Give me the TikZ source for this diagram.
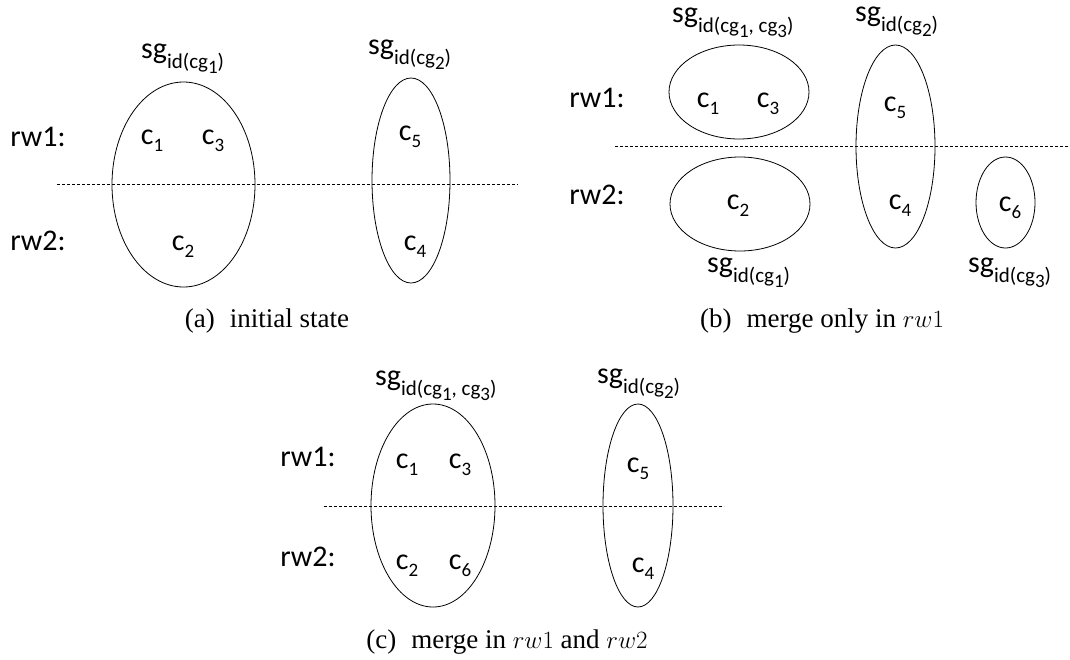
\documentclass[tikz,border=0pt]{standalone}
\usepackage{fontspec}
\newfontfamily\diag{Carlito}
\newfontfamily\capfont{Liberation Serif}
\usetikzlibrary{shapes.geometric}

% subscript helpers in the diagram font
\newcommand{\lo}[1]{\raisebox{-7pt}{\fontsize{19}{19}\selectfont #1}}
\newcommand{\sgsub}[1]{sg\raisebox{-10pt}{\fontsize{21}{21}\selectfont #1}}
\newcommand{\nest}[1]{\raisebox{-5pt}{\fontsize{19}{19}\selectfont #1}}

\begin{document}
\begin{tikzpicture}[x=1pt,y=-1pt,
  txt/.style={font=\diag\fontsize{30}{34}\selectfont, inner sep=0pt, anchor=base},
  lbl/.style={font=\diag\fontsize{30}{34}\selectfont, inner sep=0pt, anchor=base west},
  toplbl/.style={lbl, text height=16pt},
  grp/.style={draw, ellipse, line width=0.8pt, inner sep=0pt},
  row/.style={dashed, dash pattern=on 3pt off 2pt, line width=0.6pt},
  captxt/.style={font=\capfont\fontsize{27}{30}\selectfont, inner sep=0pt, anchor=base}]
\useasboundingbox (0,0) rectangle (1070,659);

% ---------------- (a) initial state ----------------
\coordinate (aL) at (57,184);
\coordinate (aR) at (518,184);
\draw[row] (aL) -- (aR);
\node[grp, minimum width=143pt, minimum height=205pt] (a1) at (183.5,184.5) {};
\node[grp, minimum width=78pt, minimum height=205pt] (a2) at (411,180.5) {};
\node[txt] (arw1) at (38,146) {rw1:};
\node[txt] (arw2) at (38,250) {rw2:};
\node[txt] (ac1) at (152,144) {c\lo{1}};
\node[txt] (ac3) at (213,144) {c\lo{3}};
\node[txt] (ac2) at (183,250) {c\lo{2}};
\node[txt] (ac5) at (410,140) {c\lo{5}};
\node[txt] (ac4) at (415,250) {c\lo{4}};
\node[lbl] (asg1) at (141,58) {\sgsub{id(cg\nest{1})}};
\node[lbl] (asg2) at (368,54.5) {\sgsub{id(cg\nest{2})}};
\node[captxt] (acap) at (267,327) {(a)\hspace{15pt}initial state};

% ---------------- (b) merge only in rw1 ----------------
\coordinate (bL) at (615,146);
\coordinate (bR) at (1070,146);
\draw[row] (bL) -- (bR);
\node[grp, minimum width=140pt, minimum height=94pt] (b1) at (739,92) {};
\node[grp, minimum width=140pt, minimum height=94pt] (b2) at (740,204) {};
\node[grp, minimum width=79pt, minimum height=203pt] (b3) at (895.5,146.5) {};
\node[grp, minimum width=59pt, minimum height=91pt] (b4) at (1005.5,202.5) {};
\node[txt] (brw1) at (597,107) {rw1:};
\node[txt] (brw2) at (597,204) {rw2:};
\node[txt] (bc1) at (708,107) {c\lo{1}};
\node[txt] (bc3) at (768,107) {c\lo{3}};
\node[txt] (bc5) at (895,111) {c\lo{5}};
\node[txt] (bc2) at (738,209) {c\lo{2}};
\node[txt] (bc4) at (900,209) {c\lo{4}};
\node[txt] (bc6) at (1010,211) {c\lo{6}};
\node[toplbl] (bsg13) at (672,22) {\sgsub{id(cg\nest{1}, cg\nest{3})}};
\node[toplbl] (bsg2) at (855,21) {\sgsub{id(cg\nest{2})}};
\node[lbl] (bsg1) at (707,272) {\sgsub{id(cg\nest{1})}};
\node[lbl] (bsg3) at (968,272) {\sgsub{id(cg\nest{3})}};
\node[captxt] (bcap) at (822,327) {(b)\hspace{15pt}merge only in $rw1$};

% ---------------- (c) merge in rw1 and rw2 ----------------
\coordinate (cL) at (324,506);
\coordinate (cR) at (724,506);
\draw[row] (cL) -- (cR);
\node[grp, minimum width=124pt, minimum height=203pt] (c1) at (433,505.5) {};
\node[grp, minimum width=70pt, minimum height=203pt] (c2) at (638,505.5) {};
\node[txt] (crw1) at (308,466) {rw1:};
\node[txt] (crw2) at (308,566) {rw2:};
\node[txt] (cc1) at (407,468) {c\lo{1}};
\node[txt] (cc3) at (460,468) {c\lo{3}};
\node[txt] (cc5) at (638,472.5) {c\lo{5}};
\node[txt] (cc2) at (407,569) {c\lo{2}};
\node[txt] (cc6) at (460,569) {c\lo{6}};
\node[txt] (cc4) at (643,572) {c\lo{4}};
\node[lbl] (csg13) at (375,385) {\sgsub{id(cg\nest{1}, cg\nest{3})}};
\node[lbl] (csg2) at (597,383) {\sgsub{id(cg\nest{2})}};
\node[captxt] (ccap) at (507,648) {(c)\hspace{15pt}merge in $rw1$ and $rw2$};
\end{tikzpicture}
\end{document}
